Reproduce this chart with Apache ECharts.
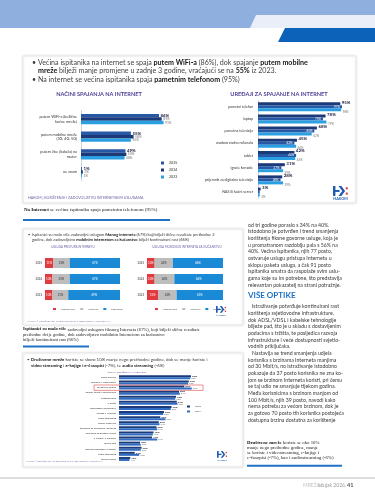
<!DOCTYPE html>
<html><head><meta charset="utf-8">
<script src="https://cdn.jsdelivr.net/npm/echarts@6/dist/echarts.min.js"></script>
<style>html,body{margin:0;padding:0;background:#fff}#c{width:375px;height:499px}</style>
</head><body><div id="c"></div>
<script>
// ---------- DATA ----------
const years3 = ['2025', '2024', '2023'];
const connCats = ['putem WiFi-a (bežične\nkućne mreže)', 'putem mobilne mreže\n(3G, 4G, 5G)', 'putem žice (kabela) na\nrouter', 'ne znam'];
const conn2025 = [86, 55, 49, 1];
const conn2024 = [89, 58, 50, 2];
const conn2023 = [91, 55, 48, 1];

const devCats = ['pametni telefon', 'laptop', 'pametna televizija', 'osobno stolno računalo', 'tablet', 'igraće konzole', 'prijemnik za digitalnu televiziju', 'NAS ili kućni server'];
const dev2025 = [95, 78, 68, 45, 42, 31, 28, 3];
const dev2024 = [97, 75, 65, 42, 44, 27, 26, 2];
const dev2023 = [96, 79, 62, 44, 43, 29, 29, 2];

const satLevels = ['nezadovoljni', 'neutralni', 'zadovoljni'];
const fixNez = [11, 10, 10];
const fixNeu = [22, 23, 21];
const fixZad = [67, 67, 69];
const mobNez = [10, 10, 15];
const mobNeu = [24, 26, 24];
const mobZad = [66, 64, 61];

const useYears = ['2025', '2024'];
const useCats = ['slanje poruka', 'glasovni i video pozivi', 'društvene mreže', 'čitanje vijesti i informiranje', 'pretraživanje', 'e-pošta', 'internetsko bankarstvo', 'usluge e-Građani', 'video streaming', 'online kupovina', 'aplikacije za navigaciju i prijevoz', 'aplikacije za dostavu hrane', 'e-knjige i e-časopisi', 'online igre', 'pohrana podataka u oblaku', 'audio streaming', 'online učenje'];
const use2025 = [96, 93, 87, 80, 76, 77, 70, 60, 55, 53, 50, 46, 44, 28, 30, 21, 15];
const use2024 = [95, 92, 97, 81, 75, 78, 69, 59, 62, 54, 51, 45, 51, 29, 29, 27, 14];

// ---------- STYLE ----------
const FONT = 'Lato';
const SERIF = 'Liberation Serif';
const C_MID = '#2758a6', C_NAVY = '#1c3a78', C_LIGHT = '#2a9fe2';
const C_RED = '#e23b3f', C_GREY = '#bdbdbd', C_BLUE = '#1b8ad6';

const G = [];
function rect(x, y, w, h, fill, extra) { G.push(Object.assign({ type: 'rect', silent: true, z: -5, shape: { x, y, width: w, height: h }, style: { fill } }, extra || {})); }
function poly(points, fill, z) { G.push({ type: 'polygon', silent: true, z: z == null ? -5 : z, shape: { points }, style: { fill } }); }
function text(x, y, str, o) {
  o = o || {};
  const size = o.size || 5, fam = o.family || FONT, col = o.color || '#3a3a3a';
  G.push({ type: 'text', silent: true, x, y, z: 50, style: {
    text: str, fontSize: size, fontFamily: fam, fontWeight: o.weight || 'normal', fill: col,
    align: o.align || 'left', verticalAlign: 'middle',
    rich: { b: { fontSize: size, fontFamily: fam, fontWeight: 'bold', fill: o.bold || '#161616' } }
  } });
}
function logo(x, y, s) {
  const c = '#1f5bb0';
  rect(x, y, 2.2 * s, 9 * s, c, { z: 40 });
  rect(x, y + 3.6 * s, 6 * s, 1.8 * s, c, { z: 40 });
  poly([[x + 5 * s, y], [x + 7.6 * s, y], [x + 11 * s, y + 4.5 * s], [x + 7.6 * s, y + 9 * s], [x + 5 * s, y + 9 * s], [x + 8.4 * s, y + 4.5 * s]], c, 40);
  rect(x + 11.6 * s, y + 1.2 * s, 1.8 * s, 1.8 * s, '#e2302f', { z: 40 });
  rect(x + 11.6 * s, y + 6 * s, 1.8 * s, 1.8 * s, '#e2302f', { z: 40 });
  text(x + 6.8 * s, y + 12 * s, 'HAKOM', { size: 3.4 * s, weight: 'bold', color: c, align: 'center' });
}

// banner
rect(0, 0, 375, 28, '#8fb0df');
poly([[256, 15], [375, 15], [375, 28], [250, 28]], '#e9eef8');
poly([[285, 28], [375, 28], [375, 42], [278, 42]], '#0b62b8');

// panel boxes
const boxStyle = { stroke: '#e3e3e3', lineWidth: 0.8, shadowBlur: 3, shadowColor: 'rgba(0,0,0,0.12)' };
G.push({ type: 'rect', silent: true, z: -6, shape: { x: 23, y: 56, width: 333, height: 147 }, style: Object.assign({ fill: '#fff' }, boxStyle) });
G.push({ type: 'rect', silent: true, z: -6, shape: { x: 23, y: 229, width: 220, height: 96 }, style: Object.assign({ fill: '#fff' }, boxStyle) });
G.push({ type: 'rect', silent: true, z: -6, shape: { x: 23, y: 353, width: 220, height: 114 }, style: Object.assign({ fill: '#fff' }, boxStyle) });

// panel 1 bullets
text(32, 63, '•', { size: 7 });
text(38, 63, 'Većina ispitanika na internet se spaja {b|putem WiFi-a} (86%), dok spajanje {b|putem mobilne}', { size: 7.1, color: '#444' });
text(38, 70.5, '{b|mreže} bilježi manje promjene u zadnje 3 godine, vraćajući se na {b|55%} iz 2023.', { size: 7.1, color: '#444' });
text(32, 80, '•', { size: 7 });
text(38, 80, 'Na internet se većina ispitanika spaja {b|pametnim telefonom} (95%)', { size: 7.1, color: '#444' });
text(28, 198, 'HAKOM | KORIŠTENJE I ZADOVOLJSTVO INTERNETSKIM USLUGAMA', { size: 3.6, color: '#6b62a3' });
logo(333, 186, 1.1);

// caption 1
text(24, 210, '{b|Na Internet} se većina ispitanika spaja pametnim telefonom (95%)', { size: 5, family: SERIF, color: '#222', bold: '#111' });
rect(23, 219, 147, 2, '#1f72c6', { z: 10 });

// panel 2 bullets
text(28, 235, '•', { size: 4 });
text(32, 235, 'Ispitanici su malo više zadovoljni uslugom {b|fiksnog interneta} (67%) koji bilježi slične rezultate prethodne 2', { size: 4 });
text(32, 240, 'godine, dok zadovoljstvo {b|mobilnim internetom za kućanstvo} bilježi kontinuirani rast (66%)', { size: 4 });
text(27, 321, 'HAKOM | KORIŠTENJE I ZADOVOLJSTVO INTERNETSKIM USLUGAMA', { size: 2.6, color: '#7a72ab' });
logo(216, 306, 0.75);

// caption 2
text(23, 329.3, '{b|Ispitanici su malo više} zadovoljni uslugom fiksnog Interneta (67%), koji bilježi slične rezultate', { size: 4.6, family: SERIF, color: '#222', bold: '#111' });
text(23, 334.3, 'prethodne dvije godine, dok zadovoljstvo mobilnim Internetom za kućanstvo', { size: 4.6, family: SERIF, color: '#222' });
text(23, 339.3, 'bilježi kontinuirani rast (66%)', { size: 4.6, family: SERIF, color: '#222' });
rect(23, 345.5, 66, 2, '#1f72c6', { z: 10 });

// panel 3 bullets
text(27, 360, '•', { size: 4.4 });
text(31, 360, '{b|Društvene mreže} koriste se skoro 10% manje nego prethodne godine, dok se manje koriste i', { size: 4.4 });
text(31, 365.7, '{b|video streaming} i {b|e-knjige i e-časopisi} (-7%), te {b|audio streaming} (-6%)', { size: 4.4 });
text(26, 461.5, 'HAKOM | KORIŠTENJE I ZADOVOLJSTVO INTERNETSKIM USLUGAMA', { size: 2.4, color: '#7a72ab' });
logo(217, 451, 0.75);
G.push({ type: 'rect', silent: true, z: 45, shape: { x: 94, y: 385, width: 109, height: 5.4 }, style: { fill: 'none', stroke: '#e04848', lineWidth: 0.6 } });

// right column text
const colX = 248, cs = 5.2, cc = '#3a3a3a';
const col1 = ['od tri godine poraslo s 34% na 40%.', 'Istodobno je potvrđen i trend smanjenja', 'korištenja fiksne govorne usluge, koja je', 'u promatranom razdoblju pala s 56% na', '40%. Većina ispitanika, njih 77 posto,', 'ostvaruje uslugu pristupa Internetu u', 'sklopu paketa usluga, a čak 91 posto', 'ispitanika smatra da raspolaže svim uslu-', 'gama koje su im potrebne, što predstavlja', 'relevantan pokazatelj na strani potražnje.'];
col1.forEach((l, i) => text(colX, 225 + i * 6.67, l, { size: cs, color: cc }));
text(colX, 295, 'VIŠE OPTIKE', { size: 8, weight: 'bold', color: '#1b6fc5' });
const col2 = ['   Istraživanje potvrđuje kontinuirani rast', 'korištenja svjetlovodne infrastrukture,', 'dok ADSL/VDSL i kabelske tehnologije', 'bilježe pad, što je u skladu s dostavljenim', 'podacima s tržišta, te posljedica razvoja', 'infrastrukture i veće dostupnosti svjetlo-', 'vodnih priključaka.', '   Nastavlja se trend smanjenja udjela', 'korisnika s brzinama Interneta manjima', 'od 30 Mbit/s, no istraživanje istodobno', 'pokazuje da 37 posto korisnika ne zna ko-', 'jom se brzinom Interneta koristi, pri čemu', 'se taj udio ne smanjuje tijekom godina.', 'Među korisnicima s brzinom manjom od', '100 Mbit/s, njih 39 posto, navodi kako', 'nema potrebu za većom brzinom, dok je', 'za gotovo 70 posto tih korisnika postojeća', 'dostupna brzina dostatna za korištenje'];
col2.forEach((l, i) => text(colX, 306.7 + i * 6.67, l, { size: cs, color: cc }));

// caption 3
text(247, 443, '{b|Društvene mreže} koriste se oko 10%', { size: 4.8, family: SERIF, color: '#222', bold: '#111' });
text(247, 448, 'manje nego prethodne godine, manje', { size: 4.8, family: SERIF, color: '#222' });
text(247, 453, 'se koriste i videostreaming, e-knjige i', { size: 4.8, family: SERIF, color: '#222' });
text(247, 458, 'e-časopisi (-7%), kao i audiostreaming (-6%)', { size: 4.8, family: SERIF, color: '#222' });
rect(247, 464.7, 95, 2, '#1f72c6', { z: 10 });

// footer
rect(0, 477.3, 375, 1.4, '#d2d2d2');
text(303, 485, 'MREŽA', { size: 5, color: '#c4c4c4' });
text(318, 485, 'ožujak 2026.', { size: 5, color: '#9a9a9a' });
text(347, 485, '41', { size: 5.6, weight: 'bold', color: '#555' });

// ---------- CHART ----------
const hidX = i => ({ gridIndex: i, type: 'value', min: 0, max: 100, show: false });
const catY = (i, data, size, margin, line) => ({
  gridIndex: i, type: 'category', data, inverse: true,
  axisLine: { show: !!line, lineStyle: { color: '#aab4c8', width: 0.6 } }, axisTick: { show: false },
  axisLabel: { interval: 0, hideOverlap: false, fontSize: size, color: '#333', margin, fontFamily: FONT, lineHeight: size * 1.2 }
});
const lbl = (o) => Object.assign({ show: true, formatter: '{c}%', fontFamily: FONT }, o);

const series = [
  // chart 1
  { name: '2025', type: 'bar', xAxisIndex: 0, yAxisIndex: 0, data: conn2025, barWidth: 3.4, barGap: '0%', itemStyle: { color: C_MID },
    label: lbl({ position: 'right', distance: 1.5, fontSize: 4.4, fontWeight: 'bold', color: '#1c1c3c' }) },
  { name: '2024', type: 'bar', xAxisIndex: 0, yAxisIndex: 0, data: conn2024, barWidth: 3.4, barGap: '0%', itemStyle: { color: C_NAVY },
    label: lbl({ position: 'right', distance: 1.5, fontSize: 3.3, color: '#777' }) },
  { name: '2023', type: 'bar', xAxisIndex: 0, yAxisIndex: 0, data: conn2023, barWidth: 3.4, barGap: '0%', itemStyle: { color: C_LIGHT },
    label: lbl({ position: 'right', distance: 1.5, fontSize: 3.3, color: '#777' }) },
  // chart 2
  { name: '2025', type: 'bar', xAxisIndex: 1, yAxisIndex: 1, data: dev2025, barWidth: 3, barGap: '0%', itemStyle: { color: C_NAVY },
    label: lbl({ position: 'right', distance: 1.5, offset: [0, -1.5], fontSize: 4.4, fontWeight: 'bold', color: '#1c1c3c' }) },
  { name: '2024', type: 'bar', xAxisIndex: 1, yAxisIndex: 1, data: dev2024, barWidth: 3, barGap: '0%', itemStyle: { color: C_MID },
    label: lbl({ position: 'insideRight', distance: 2, fontSize: 3, color: '#fff' }) },
  { name: '2023', type: 'bar', xAxisIndex: 1, yAxisIndex: 1, data: dev2023, barWidth: 3, barGap: '0%', itemStyle: { color: C_LIGHT },
    label: lbl({ position: 'right', distance: 1.5, offset: [0, 2], fontSize: 3, color: '#777' }) },
  // chart 3 (fixed)
  { name: satLevels[0], type: 'bar', stack: 'f', xAxisIndex: 2, yAxisIndex: 2, data: fixNez, barWidth: 10, itemStyle: { color: C_RED }, label: lbl({ position: 'inside', fontSize: 2.8, color: '#fff' }) },
  { name: satLevels[1], type: 'bar', stack: 'f', xAxisIndex: 2, yAxisIndex: 2, data: fixNeu, barWidth: 10, itemStyle: { color: C_GREY }, label: lbl({ position: 'inside', fontSize: 2.8, color: '#333' }) },
  { name: satLevels[2], type: 'bar', stack: 'f', xAxisIndex: 2, yAxisIndex: 2, data: fixZad, barWidth: 10, itemStyle: { color: C_BLUE }, label: lbl({ position: 'inside', fontSize: 2.8, color: '#fff' }) },
  // chart 4 (mobile)
  { name: satLevels[0], type: 'bar', stack: 'm', xAxisIndex: 3, yAxisIndex: 3, data: mobNez, barWidth: 10, itemStyle: { color: C_RED }, label: lbl({ position: 'inside', fontSize: 2.8, color: '#fff' }) },
  { name: satLevels[1], type: 'bar', stack: 'm', xAxisIndex: 3, yAxisIndex: 3, data: mobNeu, barWidth: 10, itemStyle: { color: C_GREY }, label: lbl({ position: 'inside', fontSize: 2.8, color: '#333' }) },
  { name: satLevels[2], type: 'bar', stack: 'm', xAxisIndex: 3, yAxisIndex: 3, data: mobZad, barWidth: 10, itemStyle: { color: C_BLUE }, label: lbl({ position: 'inside', fontSize: 2.8, color: '#fff' }) },
  // chart 5 (usage)
  { name: useYears[0], type: 'bar', xAxisIndex: 4, yAxisIndex: 4, data: use2025, barWidth: 2, barGap: '0%', itemStyle: { color: C_NAVY },
    label: lbl({ position: 'right', distance: 1, fontSize: 2.6, fontWeight: 'bold', color: '#222' }) },
  { name: useYears[1], type: 'bar', xAxisIndex: 4, yAxisIndex: 4, data: use2024, barWidth: 2, barGap: '0%', itemStyle: { color: '#2f6cc2' },
    label: lbl({ position: 'right', distance: 1, fontSize: 2.4, color: '#666' }) }
];

const option = {
  animation: false,
  textStyle: { fontFamily: FONT },
  title: [
    { text: 'NAČINI SPAJANJA NA INTERNET', left: 99, top: 91, textAlign: 'center', padding: 0, textStyle: { fontSize: 5.6, fontWeight: 'bold', color: '#4a3f95', fontFamily: FONT } },
    { text: 'UREĐAJI ZA SPAJANJE NA INTERNET', left: 279, top: 91, textAlign: 'center', padding: 0, textStyle: { fontSize: 5.6, fontWeight: 'bold', color: '#4a3f95', fontFamily: FONT } },
    { text: 'USLUGA PRISTUPA INTERNETU', left: 73, top: 245.5, textAlign: 'center', padding: 0, textStyle: { fontSize: 3, fontWeight: 'normal', color: '#6f66a6', fontFamily: FONT } },
    { text: 'USLUGA MOBILNOG INTERNETA ZA KUĆANSTVO', left: 187, top: 245.5, textAlign: 'center', padding: 0, textStyle: { fontSize: 3, fontWeight: 'normal', color: '#6f66a6', fontFamily: FONT } },
    { text: 'SVRHA KORIŠTENJA INTERNETA', left: 127, top: 370.3, textAlign: 'center', padding: 0, textStyle: { fontSize: 2.6, fontWeight: 'normal', color: '#5a5090', fontFamily: FONT } }
  ],
  legend: [
    { left: 161, top: 161, orient: 'vertical', icon: 'rect', itemWidth: 3, itemHeight: 3, itemGap: 3, padding: 0, selectedMode: false,
      textStyle: { fontSize: 3.6, color: '#333', fontFamily: FONT },
      data: [{ name: '2025', itemStyle: { color: C_MID } }, { name: '2024', itemStyle: { color: C_NAVY } }, { name: '2023', itemStyle: { color: C_LIGHT } }] },
    { left: 53, top: 307.5, orient: 'horizontal', icon: 'rect', itemWidth: 3, itemHeight: 2, itemGap: 5, padding: 0, selectedMode: false,
      textStyle: { fontSize: 2.6, color: '#555', fontFamily: FONT },
      data: [{ name: satLevels[0], itemStyle: { color: C_RED } }, { name: satLevels[1], itemStyle: { color: C_GREY } }, { name: satLevels[2], itemStyle: { color: C_BLUE } }] },
    { left: 155, top: 307.5, orient: 'horizontal', icon: 'rect', itemWidth: 3, itemHeight: 2, itemGap: 5, padding: 0, selectedMode: false,
      textStyle: { fontSize: 2.6, color: '#555', fontFamily: FONT },
      data: [{ name: satLevels[0], itemStyle: { color: C_RED } }, { name: satLevels[1], itemStyle: { color: C_GREY } }, { name: satLevels[2], itemStyle: { color: C_BLUE } }] },
    { left: 187, top: 405, orient: 'vertical', icon: 'rect', itemWidth: 3, itemHeight: 2, itemGap: 2, padding: 0, selectedMode: false,
      textStyle: { fontSize: 2.6, color: '#444', fontFamily: FONT },
      data: [{ name: useYears[0], itemStyle: { color: C_NAVY } }, { name: useYears[1], itemStyle: { color: '#2f6cc2' } }] }
  ],
  grid: [
    { left: 81, top: 110.2, width: 90.7, height: 70.7 },
    { left: 258, top: 100.6, width: 86.6, height: 97.6 },
    { left: 45, top: 255, width: 75, height: 48 },
    { left: 147, top: 255, width: 76, height: 48 },
    { left: 119, top: 374.8, width: 75, height: 86.7 }
  ],
  xAxis: [hidX(0), hidX(1), hidX(2), hidX(3), hidX(4)],
  yAxis: [
    catY(0, connCats, 3.8, 4, true),
    catY(1, devCats, 3.6, 5, true),
    catY(2, years3, 2.8, 3, false),
    catY(3, years3, 2.8, 3, false),
    catY(4, useCats, 2.6, 3, false)
  ],
  series,
  graphic: { elements: G }
};
const chart = echarts.init(document.getElementById('c'), null, { renderer: 'canvas' });
chart.setOption(option);
</script></body></html>
